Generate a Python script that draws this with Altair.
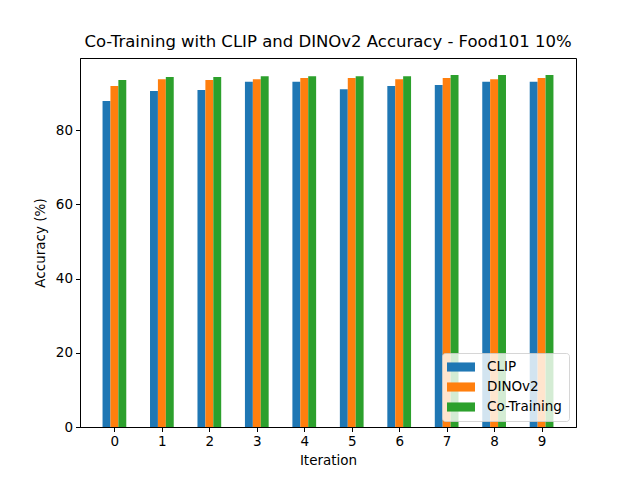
import altair as alt
import pandas as pd

iterations = [0, 1, 2, 3, 4, 5, 6, 7, 8, 9]
clip = [87.8, 90.5, 90.8, 93.0, 93.0, 91.0, 91.85, 92.1, 93.0, 93.0]
dinov2 = [91.85, 93.7, 93.5, 93.7, 94.0, 94.0, 93.7, 94.0, 93.7, 94.0]
cotrain = [93.5, 94.3, 94.3, 94.5, 94.5, 94.5, 94.5, 94.8, 94.8, 94.8]
series = ["CLIP", "DINOv2", "Co-Training"]
colors = ["#1f77b4", "#ff7f0e", "#2ca02c"]
bar_w = 1.0 / 6

rows = []
for k, (name, vals) in enumerate(zip(series, [clip, dinov2, cotrain])):
    for it, v in zip(iterations, vals):
        rows.append({"Iteration": it, "Model": name, "k": k, "Accuracy": v})
df = pd.DataFrame(rows)

font = "DejaVu Sans"
rect_path = "M-2,-0.65L2,-0.65L2,0.65L-2,0.65Z"

axis_common = dict(labelFontSize=13.5, titleFontSize=13.5, labelFont=font,
                   titleFont=font, labelColor="black", titleColor="black",
                   titleFontWeight="normal", tickColor="black",
                   domainColor="black", tickSize=4.5, labelPadding=3, grid=False)

chart = alt.Chart(df).mark_bar(orient="vertical").transform_calculate(
    x0=f"datum.Iteration - 0.25 + datum.k * {bar_w}",
    x1=f"datum.Iteration - 0.25 + (datum.k + 1) * {bar_w}",
).encode(
    x=alt.X("x0:Q", title="Iteration",
            scale=alt.Scale(domain=[-0.725, 9.725], nice=False, zero=False,
                            padding=0),
            axis=alt.Axis(values=iterations, format="d", titlePadding=5,
                          **axis_common)),
    x2="x1:Q",
    y=alt.Y("Accuracy:Q", title="Accuracy (%)",
            scale=alt.Scale(domain=[0, 99.4], nice=False, zero=True, padding=0),
            axis=alt.Axis(values=[0, 20, 40, 60, 80], titlePadding=8,
                          **axis_common)),
    y2=alt.datum(0),
    color=alt.Color("Model:N", sort=series,
                    scale=alt.Scale(domain=series, range=colors),
                    legend=alt.Legend(title=None, orient="none", legendX=362,
                                      legendY=295,
                                      fillColor="rgba(255,255,255,0.8)",
                                      strokeColor="rgba(204,204,204,0.8)",
                                      cornerRadius=3,
                                      padding=7, symbolType=rect_path,
                                      symbolSize=196, symbolStrokeWidth=0,
                                      symbolOpacity=1, symbolOffset=5,
                                      labelFont=font, labelFontSize=13.5,
                                      labelColor="black", rowPadding=6,
                                      labelOffset=19)),
).properties(
    width=496,
    height=369,
    title=alt.Title("Co-Training with CLIP and DINOv2 Accuracy - Food101 10%",
                    font=font, fontSize=16.5, fontWeight="normal",
                    color="black", offset=8),
    autosize=alt.AutoSizeParams(type="none"),
    padding={"left": 72, "top": 50, "right": 56, "bottom": 45},
).configure_view(stroke="black", strokeWidth=1)

chart.save("out.html", embed_options={"renderer": "svg", "actions": False})
